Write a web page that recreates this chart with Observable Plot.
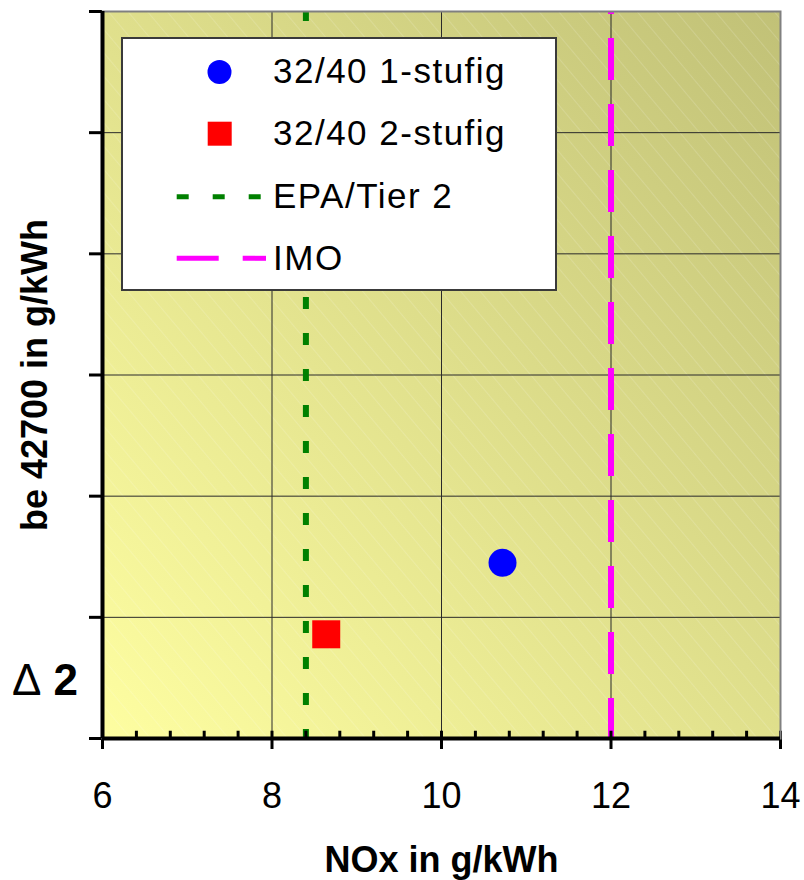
<!DOCTYPE html>
<html><head><meta charset="utf-8">
<script src="https://cdn.jsdelivr.net/npm/d3@7"></script>
<script src="https://cdn.jsdelivr.net/npm/@observablehq/plot@0.6"></script>
<style>
body{margin:0;background:#fff;}
#wrap{position:relative;width:804px;height:880px;font-family:"Liberation Sans",Arial,sans-serif;}
#overlay{position:absolute;left:0;top:0;}
</style></head>
<body>
<svg width="0" height="0" style="position:absolute">
<defs>
<linearGradient id="bgGrad" x1="0" y1="1" x2="1" y2="0">
<stop offset="0" stop-color="#FEFEA1"/>
<stop offset="1" stop-color="#C1C177"/>
</linearGradient>
<pattern id="hatch" patternUnits="userSpaceOnUse" width="15" height="15" patternTransform="rotate(-40)">
<line x1="0" y1="0" x2="0" y2="15" stroke="#fff" stroke-opacity="0.3" stroke-width="1"/>
</pattern>
</defs></svg>
<div id="wrap"></div>
<script>
// ---- data ----
const xMajor = [6, 8, 10, 12, 14];
const xMinor = [6, 6.4, 6.8, 7.2, 7.6, 8, 8.4, 8.8, 9.2, 9.6, 10, 10.4, 10.8, 11.2, 11.6, 12, 12.4, 12.8, 13.2, 13.6, 14];
const xGrid = [8, 10, 12];
const yGrid = [0, 1, 2, 3, 4, 5, 6];
const series = ["32/40 1-stufig", "32/40 2-stufig"];
const seriesNox = [10.72, 8.64];
const seriesBe = [1.45, 0.86];
const limitNames = ["EPA/Tier 2", "IMO"];
const limitNox = [8.4, 12];
const xLabel = "NOx in g/kWh";
const yLabel = "be 42700 in g/kWh";
const deltaLabel = ["Δ", "2"];

const font = '"Liberation Sans", Arial, sans-serif';
const points = series.map((s, i) => ({name: s, x: seriesNox[i], y: seriesBe[i]}));
const limits = limitNames.map((s, i) => ({name: s, x: limitNox[i]}));

const chart = Plot.plot({
  width: 804, height: 880,
  marginLeft: 102, marginRight: 24, marginTop: 11, marginBottom: 142,
  style: {fontFamily: font, background: "transparent", color: "#000", overflow: "visible"},
  x: {domain: [6, 14]},
  y: {domain: [0, 6]},
  marks: [
    Plot.frame({fill: "url(#bgGrad)"}),
    Plot.frame({fill: "url(#hatch)"}),
    Plot.gridX(xGrid, {stroke: "#2a2a2a", strokeOpacity: 1, strokeWidth: 1}),
    Plot.gridY(yGrid, {stroke: "#2a2a2a", strokeOpacity: 1, strokeWidth: 1}),
    Plot.ruleX([limits[0]], {x: "x", stroke: "#008000", strokeWidth: 6, strokeDasharray: "12,24", strokeDashoffset: 2}),
    Plot.ruleX([limits[1]], {x: "x", stroke: "#FF00FF", strokeWidth: 6, strokeDasharray: "42,24", strokeDashoffset: 39}),
    Plot.dot([points[0]], {x: "x", y: "y", r: 14, fill: "#0000FF", stroke: null}),
    Plot.dot([points[1]], {x: "x", y: "y", r: 15.8, symbol: "square", fill: "#FF0000", stroke: null}),
    Plot.ruleX(xMinor, {x: d => d, y1: 0, y2: 0.06, strokeWidth: 3, stroke: "#000"}),
    Plot.axisX({ticks: xMajor, tickSize: 11, tickPadding: 33, fontSize: 36, strokeWidth: 3, label: null, tickFormat: d => String(d)}),
    Plot.axisY({ticks: yGrid, tickSize: 13, strokeWidth: 3, fill: "none", label: null}),
    Plot.frame({stroke: "#808080", strokeWidth: 2}),
    Plot.ruleY([0], {strokeWidth: 4, stroke: "#000"}),
    Plot.ruleX([6], {strokeWidth: 4, stroke: "#000"}),
    Plot.text([xLabel], {text: d => d, frameAnchor: "bottom", textAnchor: "middle", lineAnchor: "middle", dy: 122, fontSize: 36, fontWeight: "bold", fill: "#000"}),
    Plot.text([yLabel], {text: d => d, frameAnchor: "left", textAnchor: "middle", lineAnchor: "middle", dx: -67, rotate: -90, fontSize: 36, fontWeight: "bold", fill: "#000"})
  ]
});

const wrap = document.getElementById("wrap");
wrap.appendChild(chart);

// ---- overlay: legend and delta annotation ----
const ov = d3.select(wrap).append("svg")
  .attr("id", "overlay").attr("width", 804).attr("height", 880)
  .style("font-family", font);

const dt = ov.append("text").attr("x", 12).attr("y", 695).attr("font-size", 44).attr("fill", "#000");
dt.append("tspan").text(deltaLabel[0]);
dt.append("tspan").attr("font-weight", "bold").text(" " + deltaLabel[1]);

const lg = ov.append("g").attr("transform", "translate(121,37)");
lg.append("rect").attr("x", 1).attr("y", 1).attr("width", 434).attr("height", 252)
  .attr("fill", "#fff").attr("stroke", "#3a3a3a").attr("stroke-width", 2);
lg.append("circle").attr("cx", 98.5).attr("cy", 35).attr("r", 12).attr("fill", "#0000FF");
lg.append("rect").attr("x", 86.7).attr("y", 84.7).attr("width", 24).attr("height", 24).attr("fill", "#FF0000");
lg.append("line").attr("x1", 55.7).attr("x2", 143).attr("y1", 159.7).attr("y2", 159.7)
  .attr("stroke", "#008000").attr("stroke-width", 5).attr("stroke-dasharray", "12,24");
lg.append("line").attr("x1", 55.7).attr("x2", 145).attr("y1", 221.3).attr("y2", 221.3)
  .attr("stroke", "#FF00FF").attr("stroke-width", 5).attr("stroke-dasharray", "42,24");
const names = [...series, ...limitNames];
const baselines = [46.3, 108, 171, 233];
names.forEach((n, i) => {
  lg.append("text").attr("x", 152).attr("y", baselines[i]).attr("font-size", 35)
    .attr("letter-spacing", 1.5).attr("fill", "#000").text(n);
});
</script>
</body></html>
